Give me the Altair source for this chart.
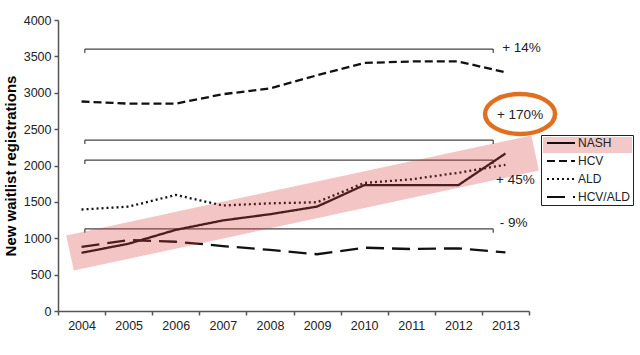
import altair as alt
import pandas as pd

# ---- data ----
years = [2004, 2005, 2006, 2007, 2008, 2009, 2010, 2011, 2012, 2013]
nash = [800, 925, 1115, 1245, 1330, 1435, 1730, 1730, 1730, 2165]
hcv = [2880, 2850, 2850, 2980, 3060, 3240, 3410, 3430, 3430, 3280]
ald = [1395, 1435, 1595, 1450, 1480, 1495, 1760, 1810, 1900, 2010]
hcv_ald = [882, 975, 952, 893, 840, 780, 870, 852, 862, 805]

series_names = ["NASH", "HCV", "ALD", "HCV/ALD"]
series_dashes = [[1, 0], [8, 4], [2, 3], [18, 8]]

bracket_levels = [3600, 2350, 2075, 1130]
bracket_start = 2004.07
bracket_end = 2012.74
bracket_drop = 55

change_labels = ["+ 14%", "+ 45%", "- 9%"]
change_x = [2012.93, 2012.80, 2012.88]
change_y = [3615, 1801, 1210]

trend_x = [2003.755, 2013.63]
trend_y = [797, 2172]

highlight_label = ["+ 170%"]
highlight_x = [2013.31]
highlight_y = [2690]
ellipse_y = [2708]

y_ticks = [0, 500, 1000, 1500, 2000, 2500, 3000, 3500, 4000]

FONT = "Liberation Sans"
X_DOMAIN = [2003.5, 2013.5]
Y_DOMAIN = [0, 4000]

rows = []
for name, vals in zip(series_names, [nash, hcv, ald, hcv_ald]):
    for yr, v in zip(years, vals):
        rows.append({"year": yr, "value": v, "series": name})
df = pd.DataFrame(rows)

xq_scale = alt.Scale(domain=X_DOMAIN, nice=False, zero=False)
y_scale = alt.Scale(domain=Y_DOMAIN, nice=False)
y_axis = alt.Axis(values=y_ticks, format="d",
                  title="New waitlist registrations", grid=False,
                  titleFont=FONT, titleFontSize=15, titleFontWeight="bold",
                  titleColor="#000000", titlePadding=5,
                  labelFont=FONT, labelFontSize=12.5, labelColor="#222222",
                  domainColor="#555555", domainWidth=1.5,
                  tickColor="#555555", tickWidth=1.5, tickSize=4,
                  labelPadding=3)


def Y(field="value:Q"):
    return alt.Y(field, scale=y_scale, axis=y_axis)


lines = alt.Chart(df).mark_line(strokeWidth=2.3, color="#111111").encode(
    x=alt.X("year:O",
            scale=alt.Scale(type="band", paddingInner=0, paddingOuter=0),
            bandPosition=0.5,
            axis=alt.Axis(title=None, tickBand="extent", labelAngle=0,
                          labelFont=FONT, labelFontSize=12.5, labelColor="#222222",
                          domainColor="#555555", domainWidth=1.5,
                          tickColor="#555555", tickWidth=1.5, tickSize=4,
                          labelPadding=4)),
    y=Y(),
    strokeDash=alt.StrokeDash(
        "series:N", sort=series_names,
        scale=alt.Scale(domain=series_names, range=series_dashes),
        legend=alt.Legend(title=None, orient="none", legendX=483, legendY=115,
                          strokeColor="#222222", padding=2,
                          symbolType="M-1,0H13", symbolSize=16,
                          symbolStrokeWidth=2, symbolStrokeColor="#111111",
                          symbolFillColor="transparent",
                          labelFont=FONT, labelFontSize=12, labelColor="#222222",
                          labelOffset=23, rowPadding=6)),
)

# brackets
br_df = pd.DataFrame([{"x1": bracket_start, "x2": bracket_end, "value": lv}
                      for lv in bracket_levels])
tick_rows = []
for lv in bracket_levels:
    for xx in (bracket_start, bracket_end):
        tick_rows.append({"xq": xx, "value": lv, "value2": lv - bracket_drop})
tick_df = pd.DataFrame(tick_rows)

bracket_lines = alt.Chart(br_df).mark_rule(color="#444444", strokeWidth=1.2).encode(
    x=alt.X("x1:Q", scale=xq_scale, axis=None),
    x2="x2:Q",
    y=Y(),
)
bracket_ticks = alt.Chart(tick_df).mark_rule(color="#444444", strokeWidth=1.2).encode(
    x=alt.X("xq:Q", scale=xq_scale, axis=None),
    y=Y(),
    y2="value2:Q",
)
under = alt.layer(bracket_lines, bracket_ticks)

# trend band
trend_df = pd.DataFrame({"xq": trend_x, "value": trend_y})
band = alt.Chart(trend_df).mark_line(strokeWidth=36, strokeCap="butt",
                                     color="#D84040", opacity=0.3).encode(
    x=alt.X("xq:Q", scale=xq_scale, axis=None),
    y=Y(),
)

ell_df = pd.DataFrame({"xq": highlight_x, "value": ellipse_y})
ellipse = alt.Chart(ell_df).mark_point(
    shape="M-1,0A1,0.57,0,1,0,1,0A1,0.57,0,1,0,-1,0Z",
    size=4900, filled=False, stroke="#E07020", strokeWidth=4.5, opacity=1).encode(
    x=alt.X("xq:Q", scale=xq_scale, axis=None),
    y=Y(),
)

hl_df = pd.DataFrame({"xq": highlight_x, "value": highlight_y, "label": highlight_label})
hl_text = alt.Chart(hl_df).mark_text(font=FONT, fontSize=13.5, color="#222222",
                                     align="center", baseline="middle").encode(
    x=alt.X("xq:Q", scale=xq_scale, axis=None),
    y=Y(),
    text="label:N",
)

ch_df = pd.DataFrame({"xq": change_x, "value": change_y, "label": change_labels})
ch_text = alt.Chart(ch_df).mark_text(font=FONT, fontSize=13.5, color="#222222",
                                     align="left", baseline="middle").encode(
    x=alt.X("xq:Q", scale=xq_scale, axis=None),
    y=Y(),
    text="label:N",
)
over = alt.layer(band, ellipse, hl_text, ch_text)

# highlight behind the NASH legend entry
legend_hl = alt.Chart(pd.DataFrame({"a": [0]})).mark_rect(color="#F2C8C8").encode(
    x=alt.value(485), x2=alt.value(574), y=alt.value(117), y2=alt.value(133)
)

chart = alt.layer(legend_hl, under, lines, over).resolve_scale(
    x="independent"
).properties(
    width=471, height=291,
    autosize=alt.AutoSizeParams(type="none"),
    padding={"left": 58, "top": 20, "right": 111, "bottom": 44},
    background="white",
).configure_view(stroke=None)

chart.save("out.html", embed_options={"renderer": "svg", "actions": False})
